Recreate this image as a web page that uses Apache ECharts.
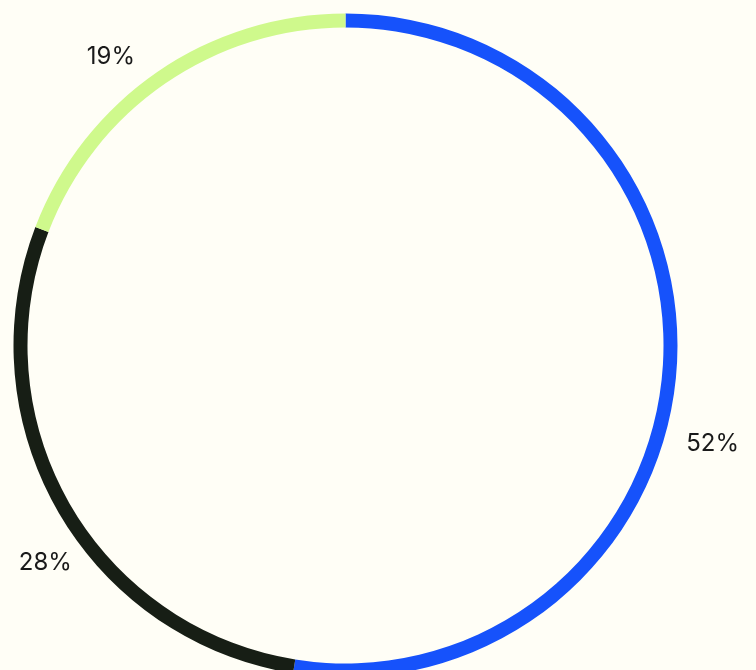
<!DOCTYPE html>
<html>
<head>
<meta charset="utf-8">
<script src="https://cdn.jsdelivr.net/npm/echarts@6/dist/echarts.min.js"></script>
<style>
html,body{margin:0;padding:0;background:#FFFEF6;}
#chart{width:756px;height:670px;}
</style>
</head>
<body>
<div id="chart"></div>
<script>
const categories = ['Blue', 'Dark', 'Green'];
const values = [52, 28, 19];
const colors = ['#1652FB', '#171E15', '#CFF98C'];

// label placement (style): angle clockwise from top, distance from centre
const labelAngles = [105.0, 234.1, 320.9];
const labelRadii = [380, 370.5, 372];
const CX = 345.5, CY = 345.5;

const chart = echarts.init(document.getElementById('chart'), null, {renderer: 'canvas'});
chart.setOption({
  backgroundColor: '#FFFEF6',
  animation: false,
  series: [{
    type: 'pie',
    center: [CX, CY],
    radius: [318, 332],
    startAngle: 90,
    clockwise: true,
    avoidLabelOverlap: false,
    itemStyle: {borderWidth: 0},
    label: {
      show: true,
      position: 'outside',
      formatter: '{c}%',
      fontFamily: 'Inter',
      fontSize: 24,
      color: '#1a1a1a'
    },
    labelLine: {show: false, length: 25, length2: 0},
    labelLayout: function (p) {
      const i = p.dataIndex;
      const a = labelAngles[i] * Math.PI / 180;
      return {
        x: CX + labelRadii[i] * Math.sin(a),
        y: CY - labelRadii[i] * Math.cos(a),
        align: 'center',
        verticalAlign: 'middle'
      };
    },
    emphasis: {disabled: true},
    data: categories.map((c, i) => ({name: c, value: values[i], itemStyle: {color: colors[i]}}))
  }]
});
</script>
</body>
</html>
